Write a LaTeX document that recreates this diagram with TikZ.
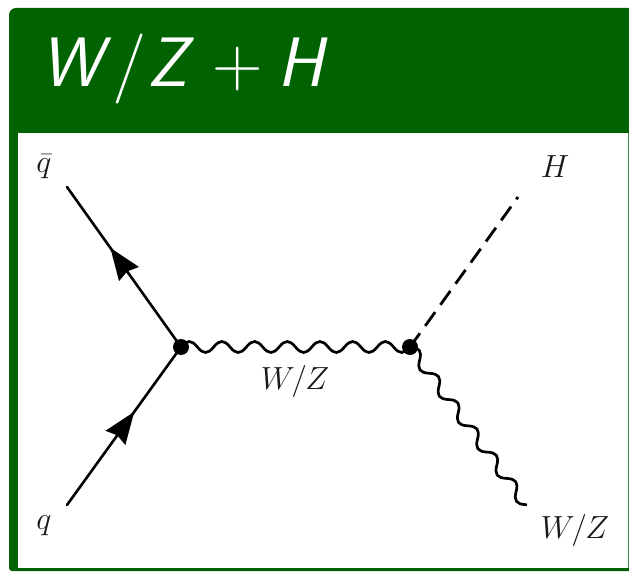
\documentclass[tikz,border=0pt]{standalone}
\usepackage{fix-cm}
\usetikzlibrary{decorations,decorations.markings,arrows.meta}
\definecolor{hdrgreen}{RGB}{0,98,0}
\definecolor{edgegreen}{RGB}{60,140,60}
\pgfdeclaredecoration{bosonwave}{crest}{
  \state{crest}[width=.5\pgfdecorationsegmentlength,next state=trough]{
    \pgfpathcurveto{\pgfqpoint{.1821\pgfdecorationsegmentlength}{1.3333\pgfdecorationsegmentamplitude}}
      {\pgfqpoint{.3179\pgfdecorationsegmentlength}{1.3333\pgfdecorationsegmentamplitude}}
      {\pgfqpoint{.5\pgfdecorationsegmentlength}{0pt}}
  }
  \state{trough}[width=.5\pgfdecorationsegmentlength,next state=crest]{
    \pgfpathcurveto{\pgfqpoint{.1821\pgfdecorationsegmentlength}{-1.3333\pgfdecorationsegmentamplitude}}
      {\pgfqpoint{.3179\pgfdecorationsegmentlength}{-1.3333\pgfdecorationsegmentamplitude}}
      {\pgfqpoint{.5\pgfdecorationsegmentlength}{0pt}}
  }
  \state{final}{\pgfpathlineto{\pgfpointdecoratedpathlast}}
}
\tikzset{
  fermion/.style={line width=2.6pt,line cap=round,postaction={decorate},decoration={markings,mark=at position #1 with {\arrow{Stealth[length=32pt,width=24pt,inset=3pt]}}}},
  scalar/.style={line width=2.8pt,dash pattern=on 17pt off 9pt},
  boson/.style={line width=2.7pt,line cap=round,decorate,decoration={bosonwave,amplitude=5.5pt,segment length=#1}},
  vertexdot/.style={circle,fill=black,inner sep=0pt,minimum size=16pt},
  lab/.style={inner sep=0pt,text=black!90,font=\fontsize{32}{36}\selectfont}
}
\begin{document}
\begin{tikzpicture}[x=1pt,y=-1pt]
\useasboundingbox (0,0) rectangle (629,572);
\fill[white] (0,0) rectangle (629,572);
\fill[hdrgreen] (16,8) -- (629,8) -- (629,571) -- (12,571) to[out=180,in=270] (9,568) -- (9,15) to[out=90,in=180] (16,8) -- cycle;
\fill[white] (18,133) rectangle (628,568);
\fill[edgegreen] (628,133) rectangle (629,568);
\node[anchor=base west,inner sep=0pt,text=white,font=\fontsize{70}{74}\selectfont] (title) at (40,87)
  {{\sffamily\itshape W}\kern10pt$/$\kern1pt{\sffamily\itshape Z}\kern25pt$+$\kern14pt{\sffamily\itshape H}};
\node[vertexdot] (v1) at (181,347) {};
\node[vertexdot] (v2) at (410,347) {};
\coordinate (qb) at (67,187);
\coordinate (qq) at (67,505);
\coordinate (hh) at (518,197);
\coordinate (wz) at (526,505);
\draw[boson=32.7pt] (v1.center) -- (v2.center);
\draw[boson=32.6pt] (v2.center) -- (wz);
\draw[fermion=0.59] (qq) -- (v1.center);
\draw[fermion=0.62] (v1.center) -- (qb);
\draw[scalar] (v2.center) -- (hh);
\node[lab] (lqb) at (44,167) {$\bar q$};
\node[lab] (lq) at (44,526) {$q$};
\node[lab] (lh) at (555,167) {$H$};
\node[lab] (lwa) at (295,381) {$W/Z$};
\node[lab] (lwb) at (575,530) {$W/Z$};
\end{tikzpicture}
\end{document}
